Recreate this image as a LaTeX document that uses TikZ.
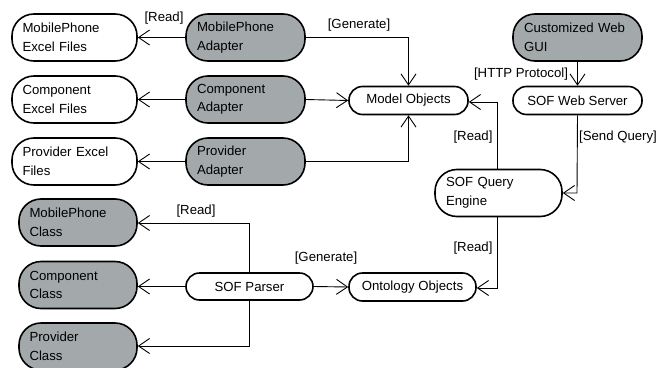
\documentclass[tikz,border=0pt]{standalone}
\usepackage{fontspec}
\setmainfont{Liberation Sans}
\usetikzlibrary{arrows.meta}
\definecolor{boxgray}{HTML}{A3A9AA}
\begin{document}
\begin{tikzpicture}[x=1pt,y=-1pt,
  base/.style={draw=black, line width=1.6pt, inner sep=0pt,
    font=\fontsize{13.2}{18.5}\selectfont},
  tall/.style={base, minimum height=47pt, rounded corners=22pt},
  flat/.style={base, minimum height=28pt, rounded corners=13.5pt, align=center},
  wbox/.style={fill=white},
  gbox/.style={fill=boxgray},
  lbl/.style={font=\fontsize{13.2}{15}\selectfont, inner sep=0pt},
  link/.style={line width=0.9pt, -{Straight Barb[length=11pt,width=15pt,line width=0.9pt]}}
]
\useasboundingbox (0,0) rectangle (656,367);

% file sources and adapters
\node[tall, wbox, minimum width=125pt, text width=104pt, align=left] (mpx) at (74.5,37.5) {MobilePhone\\Excel Files};
\node[tall, gbox, minimum width=119pt, text width=97pt, align=left] (mpa) at (245.5,37.5) {MobilePhone\\Adapter};
\node[tall, wbox, minimum width=125pt, text width=104pt, align=left] (cpx) at (74.5,99.5) {Component\\Excel Files};
\node[tall, gbox, minimum width=119pt, text width=97pt, align=left] (cpa) at (245.5,99.5) {Component\\Adapter};
\node[tall, wbox, minimum width=125pt, text width=104pt, align=left] (pvx) at (74.5,161.5) {Provider Excel\\Files};
\node[tall, gbox, minimum width=119pt, text width=97pt, align=left] (pva) at (245.5,161.5) {Provider\\Adapter};

% model side
\node[flat, wbox, minimum width=119pt] (model) at (408.5,100.5) {Model Objects};
\node[tall, gbox, minimum width=129pt, text width=107pt, align=left] (gui) at (577.5,37.5) {Customized Web\\GUI};
\node[flat, wbox, minimum width=129pt] (web) at (577.5,100.5) {SOF Web Server};
\node[tall, wbox, minimum width=127pt, text width=105pt, align=left] (query) at (498.5,193) {SOF Query\\Engine};

% ontology side
\node[tall, gbox, minimum width=118pt, text width=97pt, align=left] (mpc) at (78,222.5) {MobilePhone\\Class};
\node[tall, gbox, minimum width=118pt, text width=97pt, align=left] (cpc) at (78,285) {Component\\Class};
\node[tall, gbox, minimum width=118pt, text width=97pt, align=left] (pvc) at (78,346.5) {Provider\\Class};
\node[flat, wbox, minimum width=127pt, minimum height=27pt] (parser) at (249.5,286.5) {SOF Parser};
\node[flat, wbox, minimum width=127pt] (onto) at (412.5,287) {Ontology Objects};

% adapters read the excel files
\draw[link] (mpa.west) -- (mpx.east);
\draw[link] (cpa.west) -- (cpx.east);
\draw[link] (pva.west) -- (pvx.east);
\node[lbl] at (164,18) {[Read]};

% adapters generate model objects
\draw[link] (mpa.east) -| (model.north);
\draw[link] (cpa.east) -- (model.west);
\draw[link] (pva.east) -| (model.south);
\node[lbl] at (359,25) {[Generate]};

% web request chain
\draw[link] (gui.south) -- (web.north);
\node[lbl] at (521,74) {[HTTP Protocol]};
\coordinate (q1) at (577,193);
\draw[link] (web.south) -- (q1) -- (query.east);
\node[lbl] at (618,137) {[Send Query]};
\coordinate (q2) at (497,102);
\draw[link] ([xshift=-1.5pt]query.north) -- (q2) -- (model.east |- q2);
\node[lbl] at (473,137) {[Read]};
\coordinate (q3) at (497,288);
\draw[link] ([xshift=-1.5pt]query.south) -- (q3) -- (onto.east |- q3);
\node[lbl] at (473,248) {[Read]};

% parser reads classes, generates ontology objects
\coordinate (p1) at (249.5,223);
\coordinate (p2) at (249.5,346);
\draw[link] (parser.north) -- (p1) -- (mpc.east |- p1);
\draw[link] (parser.west) -- (cpc.east |- parser.west);
\draw[link] (parser.south) -- (p2) -- (pvc.east |- p2);
\node[lbl] at (196,211) {[Read]};
\draw[link] (parser.east) -- (onto.west);
\node[lbl] at (326,258.5) {[Generate]};
\end{tikzpicture}
\end{document}
